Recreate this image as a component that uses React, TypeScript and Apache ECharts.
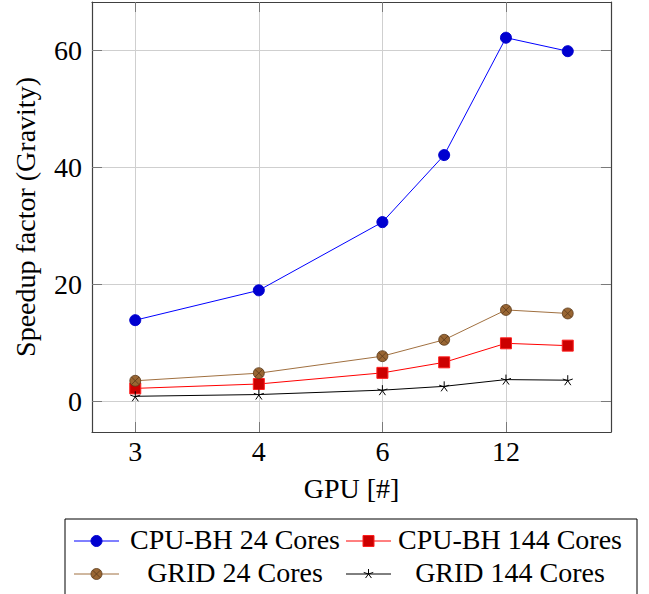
import { useEffect, useRef } from 'react';
import * as echarts from 'echarts';

// GPU counts sit on an evenly spaced symbolic axis; 9 and 16 GPUs fall between the labelled ticks.
const gpuPositions = [0, 1, 2, 2.5, 3, 3.5];
const gpuTickPositions = [0, 1, 2, 3];
const gpuTickLabels = ['3', '4', '6', '12'];
const speedupTicks = [0, 20, 40, 60];

const cpuBh24 = [13.85, 18.95, 30.6, 42.05, 62.1, 59.8];
const cpuBh144 = [2.2, 2.95, 4.85, 6.65, 9.9, 9.5];
const grid24 = [3.5, 4.8, 7.7, 10.5, 15.6, 15.0];
const grid144 = [0.85, 1.15, 1.9, 2.55, 3.7, 3.6];

const seriesNames = ['CPU-BH 24 Cores', 'CPU-BH 144 Cores', 'GRID 24 Cores', 'GRID 144 Cores'];

const FONT = "'Liberation Serif', 'Times New Roman', serif";
const FONT_SIZE = 28;

const otimesSymbol =
  'path://M0,-10A10,10,0,1,1,0,10A10,10,0,1,1,0,-10ZM-7.07,-7.07L7.07,7.07M-7.07,7.07L7.07,-7.07';
const starSymbol =
  'path://M0,0L0,-10M0,0L9.51,-3.09M0,0L5.88,8.09M0,0L-5.88,8.09M0,0L-9.51,-3.09';

const zip = (ys: number[]) => ys.map((y, i) => [gpuPositions[i], y]);

function legendGraphics() {
  const els: any[] = [];
  els.push({
    type: 'rect',
    shape: { x: 65, y: 519, width: 572, height: 80 },
    style: { fill: '#fff', stroke: '#000', lineWidth: 1 },
    z: 10,
  });
  const rows = [541, 574];
  const sampleX = [[74, 119], [346, 391]];
  const textX = [235, 510];
  const lineColors = ['#0000ff', '#ff0000', '#a07040', '#000000'];
  for (let i = 0; i < 4; i++) {
    const row = Math.floor(i / 2);
    const col = i % 2;
    const y = rows[row];
    const [x0, x1] = sampleX[col];
    const cx = (x0 + x1) / 2;
    els.push({
      type: 'line',
      shape: { x1: x0, y1: y, x2: x1, y2: y },
      style: { stroke: lineColors[i], lineWidth: 1 },
      z: 11,
    });
    if (i === 0) {
      els.push({ type: 'circle', shape: { cx, cy: y, r: 5.5 }, style: { fill: '#0000d0', stroke: '#0000d0' }, z: 12 });
    } else if (i === 1) {
      els.push({ type: 'rect', shape: { x: cx - 5.5, y: y - 5.5, width: 11, height: 11 }, style: { fill: '#cc0000', stroke: '#ff2020' }, z: 12 });
    } else if (i === 2) {
      els.push({ type: 'circle', shape: { cx, cy: y, r: 5.5 }, style: { fill: '#996633', stroke: '#5a3a1a', lineWidth: 0.8 }, z: 12 });
      els.push({ type: 'line', shape: { x1: cx - 3.9, y1: y - 3.9, x2: cx + 3.9, y2: y + 3.9 }, style: { stroke: '#5a3a1a', lineWidth: 0.8 }, z: 13 });
      els.push({ type: 'line', shape: { x1: cx - 3.9, y1: y + 3.9, x2: cx + 3.9, y2: y - 3.9 }, style: { stroke: '#5a3a1a', lineWidth: 0.8 }, z: 13 });
    } else {
      for (let k = 0; k < 5; k++) {
        const a = -Math.PI / 2 + (k * 2 * Math.PI) / 5;
        els.push({
          type: 'line',
          shape: { x1: cx, y1: y, x2: cx + 5 * Math.cos(a), y2: y + 5 * Math.sin(a) },
          style: { stroke: '#000', lineWidth: 1 },
          z: 13,
        });
      }
    }
    els.push({
      type: 'text',
      x: textX[col],
      y: y - 2,
      style: {
        text: seriesNames[i],
        font: `${FONT_SIZE}px ${FONT}`,
        fill: '#000',
        align: 'center',
        verticalAlign: 'middle',
      },
      z: 12,
    });
  }
  return els;
}

export default function App() {
  const ref = useRef<HTMLDivElement>(null);

  useEffect(() => {
    if (!ref.current) return;
    const chart = echarts.init(ref.current, undefined, { renderer: 'svg' });

    const axisLine = { show: true, onZero: false, lineStyle: { color: '#404040', width: 1.2 } };
    const tickStyle = { color: '#7a7a7a', width: 1 };
    const gridStyle = { color: '#cfcfcf', width: 1 };
    const labelText = { fontFamily: FONT, fontSize: FONT_SIZE, color: '#000' };

    const xBase = { type: 'value', min: -0.35, max: 3.85 } as const;
    const yBase = { type: 'value', min: -5.25, max: 68.2 } as const;

    chart.setOption({
      animation: false,
      grid: { left: 92, top: 2, width: 519, height: 430, containLabel: false, outerBoundsMode: 'none' },
      xAxis: [
        {
          ...xBase,
          position: 'bottom',
          axisLine,
          axisTick: { show: true, inside: true, length: 10, customValues: gpuTickPositions, lineStyle: tickStyle },
          axisLabel: {
            customValues: gpuTickPositions,
            formatter: (v: number) => gpuTickLabels[gpuTickPositions.indexOf(v)] ?? '',
            margin: 5,
            ...labelText,
          },
          splitLine: { show: true, lineStyle: gridStyle },
          name: 'GPU [#]',
          nameLocation: 'middle',
          nameGap: 42,
          nameTextStyle: labelText,
        },
        {
          ...xBase,
          position: 'top',
          axisLine,
          axisTick: { show: true, inside: true, length: 10, customValues: gpuTickPositions, lineStyle: tickStyle },
          axisLabel: { show: false },
          splitLine: { show: false },
        },
      ],
      yAxis: [
        {
          ...yBase,
          position: 'left',
          axisLine,
          axisTick: { show: true, inside: true, length: 10, customValues: speedupTicks, lineStyle: tickStyle },
          axisLabel: { customValues: speedupTicks, margin: 10, ...labelText },
          splitLine: { show: true, lineStyle: gridStyle },
          name: 'Speedup factor (Gravity)',
          nameLocation: 'middle',
          nameGap: 53,
          nameTextStyle: labelText,
        },
        {
          ...yBase,
          position: 'right',
          axisLine,
          axisTick: { show: true, inside: true, length: 10, customValues: speedupTicks, lineStyle: tickStyle },
          axisLabel: { show: false },
          splitLine: { show: false },
        },
      ],
      series: [
        {
          name: seriesNames[0],
          type: 'line',
          data: zip(cpuBh24),
          symbol: 'circle',
          symbolSize: 11,
          lineStyle: { color: '#0000ff', width: 1 },
          itemStyle: { color: '#0000d0', borderColor: '#0000d0', borderWidth: 1 },
          emphasis: { disabled: true },
          z: 2,
        },
        {
          name: seriesNames[1],
          type: 'line',
          data: zip(cpuBh144),
          symbol: 'rect',
          symbolSize: 11,
          lineStyle: { color: '#ff0000', width: 1 },
          itemStyle: { color: '#cc0000', borderColor: '#ff2020', borderWidth: 1 },
          emphasis: { disabled: true },
          z: 3,
        },
        {
          name: seriesNames[2],
          type: 'line',
          data: zip(grid24),
          symbol: otimesSymbol,
          symbolSize: 11,
          lineStyle: { color: '#a07040', width: 1 },
          itemStyle: { color: '#996633', borderColor: '#5a3a1a', borderWidth: 0.8 },
          emphasis: { disabled: true },
          z: 4,
        },
        {
          name: seriesNames[3],
          type: 'line',
          data: zip(grid144),
          symbol: starSymbol,
          symbolSize: 10,
          lineStyle: { color: '#000000', width: 1 },
          itemStyle: { color: 'none', borderColor: '#000000', borderWidth: 1 },
          emphasis: { disabled: true },
          z: 5,
        },
      ],
      graphic: legendGraphics(),
    });

    return () => chart.dispose();
  }, []);

  return (
    <div
      ref={ref}
      style={{ position: 'fixed', left: 0, top: 0, width: 649, height: 594, background: '#fff' }}
    />
  );
}
